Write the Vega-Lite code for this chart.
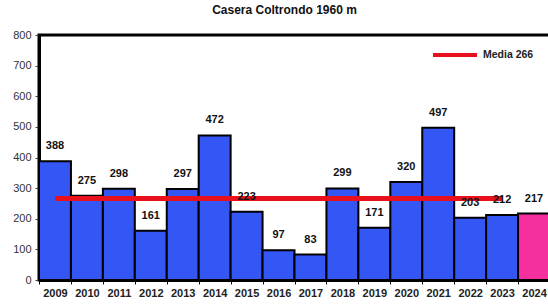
{
  "$schema": "https://vega.github.io/schema/vega-lite/v6.json",
  "autosize": "none",
  "width": 511,
  "height": 245,
  "padding": {"left": 39, "top": 35, "right": 0, "bottom": 25},
  "background": "white",
  "title": {"text": "Casera Coltrondo 1960 m", "font": "Liberation Sans", "fontSize": 12, "fontWeight": "bold", "color": "#111", "offset": 12, "dx": -10},
  "config": {"view": {"stroke": "black", "strokeWidth": 3}},
  "data": {"values": [
    {"anno": "2009", "valore": 388, "media": 266, "tipo": "storico"},
    {"anno": "2010", "valore": 275, "media": 266, "tipo": "storico"},
    {"anno": "2011", "valore": 298, "media": 266, "tipo": "storico"},
    {"anno": "2012", "valore": 161, "media": 266, "tipo": "storico"},
    {"anno": "2013", "valore": 297, "media": 266, "tipo": "storico"},
    {"anno": "2014", "valore": 472, "media": 266, "tipo": "storico"},
    {"anno": "2015", "valore": 223, "media": 266, "tipo": "storico"},
    {"anno": "2016", "valore": 97, "media": 266, "tipo": "storico"},
    {"anno": "2017", "valore": 83, "media": 266, "tipo": "storico"},
    {"anno": "2018", "valore": 299, "media": 266, "tipo": "storico"},
    {"anno": "2019", "valore": 171, "media": 266, "tipo": "storico"},
    {"anno": "2020", "valore": 320, "media": 266, "tipo": "storico"},
    {"anno": "2021", "valore": 497, "media": 266, "tipo": "storico"},
    {"anno": "2022", "valore": 203, "media": 266, "tipo": "storico"},
    {"anno": "2023", "valore": 212, "media": 266, "tipo": "storico"},
    {"anno": "2024", "valore": 217, "media": null, "tipo": "attuale"}
  ]},
  "encoding": {
    "x": {"field": "anno", "type": "ordinal", "scale": {"paddingInner": 0, "paddingOuter": 0},
      "axis": {"title": null, "labelAngle": 0, "labelFont": "Liberation Sans", "labelFontSize": 11, "labelFontWeight": "bold", "labelColor": "#222", "domainColor": "black", "domainWidth": 3, "tickColor": "black", "tickSize": 4, "tickBand": "extent", "labelPadding": 3}}
  },
  "layer": [
    {
      "mark": {"type": "bar", "stroke": "black", "strokeWidth": 2},
      "encoding": {
        "y": {"field": "valore", "type": "quantitative", "scale": {"domain": [0, 800]},
          "axis": {"title": null, "values": [0,100,200,300,400,500,600,700,800], "grid": false, "labelFont": "Liberation Sans", "labelFontSize": 11, "labelColor": "#333", "domainColor": "black", "domainWidth": 3, "tickColor": "#444", "tickSize": 4, "labelPadding": 4}},
        "fill": {"field": "tipo", "type": "nominal", "scale": {"domain": ["storico", "attuale"], "range": ["#3356f5", "#f5309e"]}, "legend": null}
      }
    },
    {
      "mark": {"type": "line", "color": "#e8101a", "strokeWidth": 5},
      "encoding": {
        "y": {"field": "media", "type": "quantitative",
          "axis": {"title": null, "values": [0,100,200,300,400,500,600,700,800], "grid": false, "labelFont": "Liberation Sans", "labelFontSize": 11, "labelColor": "#333", "domainColor": "black", "domainWidth": 3, "tickColor": "#444", "tickSize": 4, "labelPadding": 4}},
        "stroke": {"datum": "Media 266", "type": "nominal", "scale": {"range": ["#e8101a"]},
          "legend": {"title": null, "orient": "none", "legendX": 392, "legendY": -4, "symbolType": "stroke", "symbolSize": 1936, "symbolStrokeWidth": 4, "labelFont": "Liberation Sans", "labelFontSize": 10.5, "labelFontWeight": "bold", "labelColor": "#222", "labelOffset": 4}}
      }
    },
    {
      "mark": {"type": "text", "font": "Liberation Sans", "fontSize": 11, "fontWeight": "bold", "color": "#111", "baseline": "bottom", "dy": -10},
      "encoding": {
        "y": {"field": "valore", "type": "quantitative",
          "axis": {"title": null, "values": [0,100,200,300,400,500,600,700,800], "grid": false, "labelFont": "Liberation Sans", "labelFontSize": 11, "labelColor": "#333", "domainColor": "black", "domainWidth": 3, "tickColor": "#444", "tickSize": 4, "labelPadding": 4}},
        "text": {"field": "valore", "type": "quantitative"}
      }
    }
  ]
}
